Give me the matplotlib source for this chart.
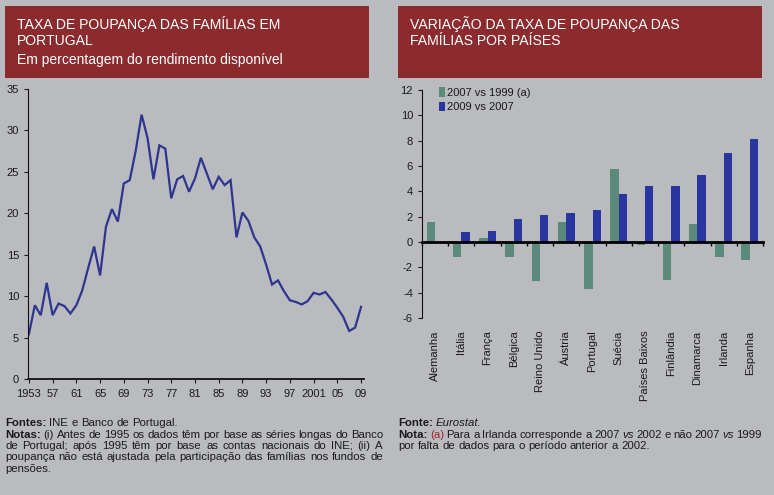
import matplotlib
matplotlib.use("Agg")
import matplotlib.pyplot as plt
from matplotlib import font_manager
from matplotlib.patches import Rectangle, Patch
import numpy as np

plt.rcParams['axes.unicode_minus'] = False

# ---------------- data ----------------
years = list(range(1953, 2010))
savings_rate = [5.4, 8.9, 7.7, 11.6, 7.7, 9.1, 8.8, 7.9, 8.9, 10.7,
                13.4, 16.0, 12.5, 18.4, 20.5, 19.0, 23.6, 24.0, 27.5, 31.9,
                29.1, 24.1, 28.2, 27.8, 21.8, 24.1, 24.5, 22.6, 24.2, 26.7,
                24.8, 22.9, 24.4, 23.4, 24.0, 17.1, 20.1, 19.1, 17.1, 16.0,
                13.8, 11.4, 11.9, 10.6, 9.5, 9.3, 9.0, 9.4, 10.4, 10.2,
                10.5, 9.6, 8.6, 7.5, 5.8, 6.2, 8.7]
year_ticks = [1953, 1957, 1961, 1965, 1969, 1973, 1977, 1981, 1985, 1989,
              1993, 1997, 2001, 2005, 2009]
year_tick_labels = ['1953', '57', '61', '65', '69', '73', '77', '81', '85', '89',
                    '93', '97', '2001', '05', '09']
left_yticks = [0, 5, 10, 15, 20, 25, 30, 35]

countries = ['Alemanha', 'Itália', 'França', 'Bélgica', 'Reino Unido', 'Áustria',
             'Portugal', 'Suécia', 'Países Baixos', 'Finlândia', 'Dinamarca',
             'Irlanda', 'Espanha']
var_2007_1999 = [1.6, -1.2, 0.3, -1.2, -3.1, 1.6, -3.7, 5.8, -0.2, -3.0, 1.4, -1.2, -1.4]
var_2009_2007 = [0.0, 0.8, 0.9, 1.8, 2.1, 2.3, 2.5, 3.8, 4.4, 4.4, 5.3, 7.0, 8.1]
series_names = ['2007 vs 1999 (a)', '2009 vs 2007']
right_yticks = [-6, -4, -2, 0, 2, 4, 6, 8, 10, 12]

# ---------------- style ----------------
W, H = 774, 495
BG = '#b9bbbe'
RED = '#8b2b2d'
LINE = '#2e3590'
GREEN = '#5c8a7a'
BLUE = '#2a36a0'
TXT = '#1a1a1a'

names = {f.name for f in font_manager.fontManager.ttflist}
SANS = 'Liberation Sans' if 'Liberation Sans' in names else 'DejaVu Sans'
NARROW = 'Liberation Sans Narrow' if 'Liberation Sans Narrow' in names else SANS
plt.rcParams['font.family'] = [SANS, 'DejaVu Sans']

fig = plt.figure(figsize=(W / 100, H / 100), dpi=100, facecolor=BG)


def fx(px):
    return px / W


def fy(py):
    return 1 - py / H


# ---------------- headers ----------------
for x0, x1 in [(5, 369), (398, 762)]:
    fig.patches.append(Rectangle((fx(x0), fy(78)), fx(x1) - fx(x0), fy(6) - fy(78),
                                 transform=fig.transFigure, facecolor=RED,
                                 edgecolor='none', zorder=0))

hdr = dict(color='white', fontsize=10.1, family=SANS, va='baseline', ha='left')
fig.text(fx(17), fy(29), 'TAXA DE POUPANÇA DAS FAMÍLIAS EM', **hdr)
fig.text(fx(17), fy(45), 'PORTUGAL', **hdr)
fig.text(fx(17), fy(64), 'Em percentagem do rendimento disponível',
         color='white', fontsize=10.0, family=SANS, va='baseline', ha='left')
fig.text(fx(410), fy(29), 'VARIAÇÃO DA TAXA DE POUPANÇA DAS', **hdr)
fig.text(fx(410), fy(45), 'FAMÍLIAS POR PAÍSES', **hdr)

# ---------------- left chart ----------------
axL = fig.add_axes([fx(28), fy(379), fx(364) - fx(28), fy(89) - fy(379)])
axL.set_facecolor(BG)
axL.plot(years, savings_rate, color=LINE, lw=1.6, solid_joinstyle='miter')
axL.set_xlim(1952.85, 2009.5)
axL.set_ylim(0, 35)
axL.set_yticks(left_yticks)
axL.set_xticks(year_ticks)
axL.set_xticklabels(year_tick_labels)
for s in ['top', 'right']:
    axL.spines[s].set_visible(False)
axL.spines['left'].set_color('#111111')
axL.spines['bottom'].set_color('#111111')
axL.spines['bottom'].set_linewidth(1.3)
axL.tick_params(axis='both', labelsize=8, colors=TXT, length=3, width=0.8,
                direction='out')
axL.tick_params(axis='x', pad=4)

# ---------------- right chart ----------------
axR = fig.add_axes([fx(422), fy(318), fx(763) - fx(422), fy(90) - fy(318)])
axR.set_facecolor(BG)
n = len(countries)
xpos = np.arange(n)
bw = 0.32
axR.bar(xpos - bw / 2, var_2007_1999, width=bw, color=GREEN, label=series_names[0], zorder=2)
axR.bar(xpos + bw / 2, var_2009_2007, width=bw, color=BLUE, label=series_names[1], zorder=2)
axR.set_xlim(-0.5, n - 0.5)
axR.set_ylim(-6, 12)
axR.set_yticks(right_yticks)
for s in ['top', 'right']:
    axR.spines[s].set_visible(False)
axR.spines['left'].set_color('#111111')
axR.spines['bottom'].set_position(('data', 0))
axR.spines['bottom'].set_linewidth(2)
axR.spines['bottom'].set_color('#000000')
axR.spines['bottom'].set_zorder(3)
axR.set_xticks(np.arange(n + 1) - 0.5)
axR.tick_params(axis='x', labelbottom=False, length=3, width=1, direction='out',
                colors='#000000')
axR.tick_params(axis='y', labelsize=8, colors=TXT, length=3, width=0.8)
sec = axR.secondary_xaxis(0)
sec.set_xticks(xpos)
sec.set_xticklabels(countries, rotation=90, fontsize=8, color=TXT, va='top', ha='center')
sec.tick_params(length=0, pad=9)
sec.spines['bottom'].set_visible(False)

handles = [Patch(facecolor=GREEN, edgecolor='none'), Patch(facecolor=BLUE, edgecolor='none')]
leg = axR.legend(handles, series_names, loc='upper left', bbox_to_anchor=(0.02, 1.055),
                 frameon=False, handlelength=0.55, handleheight=0.9, handletextpad=0.2,
                 labelspacing=0.35, prop={'family': NARROW, 'size': 8})
for t in leg.get_texts():
    t.set_color(TXT)

# ---------------- footnotes ----------------
renderer = fig.canvas.get_renderer()
FS = 8.2


def draw_words(x0, y, words, width=None):
    """words: list of (text, style dict). Justified to width (px) if given."""
    arts = []
    widths = []
    for w, st in words:
        kw = dict(family=NARROW, fontsize=FS, color=TXT, va='baseline', ha='left')
        kw.update(st)
        t = fig.text(fx(x0), fy(y), w, **kw)
        bb = t.get_window_extent(renderer)
        arts.append(t)
        widths.append(bb.width)
    sp = fig.text(0, 0, 'a a', family=NARROW, fontsize=FS)
    sp_w = sp.get_window_extent(renderer).width - \
        2 * fig.text(0, 0, 'a', family=NARROW, fontsize=FS).get_window_extent(renderer).width
    for t in fig.texts[-2:]:
        t.remove()
    if width is not None and len(words) > 1:
        gap = (width - sum(widths)) / (len(words) - 1)
    else:
        gap = sp_w
    x = x0
    for t, wd, (w, st) in zip(arts, widths, words):
        t.set_x(fx(x))
        x += wd + gap
    return arts


def plain(s, **st):
    return [(w, dict(st)) for w in s.split()]


B = dict(weight='bold')
I = dict(style='italic')

# left footnote
draw_words(5, 426, [('Fontes:', B)] + plain('INE e Banco de Portugal.'))
draw_words(5, 437.5, [('Notas:', B)] + plain('(i) Antes de 1995 os dados têm por base as séries longas do Banco'), width=378)
draw_words(5, 449, plain('de Portugal; após 1995 têm por base as contas nacionais do INE; (ii) A'), width=378)
draw_words(5, 460.5, plain('poupança não está ajustada pela participação das famílias nos fundos de'), width=378)
draw_words(5, 472, plain('pensões.'))

# right footnote
draw_words(398, 426, [('Fonte:', B), ('Eurostat.', I)])
line2 = ([('Nota:', B), ('(a)', dict(color='#a0262a'))] + plain('Para a Irlanda corresponde a 2007')
         + [('vs', I)] + plain('2002 e não 2007') + [('vs', I), ('1999', {})])
draw_words(398, 437.5, line2, width=364)
draw_words(398, 449, plain('por falta de dados para o período anterior a 2002.'))

fig.savefig('out.png', dpi=100, facecolor=BG)
